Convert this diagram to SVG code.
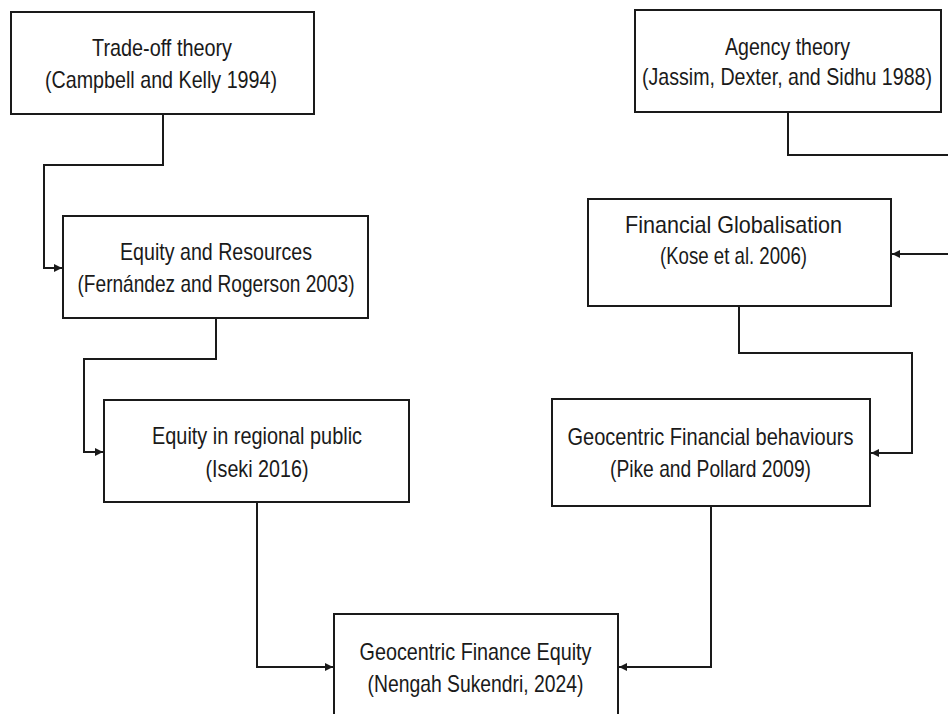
<svg xmlns="http://www.w3.org/2000/svg" width="948" height="714" viewBox="0 0 948 714">
<style>
.box{fill:#fff;stroke:#1a1a1a;stroke-width:2}
.lbl{font-family:"Liberation Sans",Arial,sans-serif;font-size:24px;fill:#1a1a1a;text-anchor:middle}
.con{fill:none;stroke:#1a1a1a;stroke-width:2;marker-end:url(#arr)}
</style>
<defs>
<marker id="arr" markerUnits="userSpaceOnUse" markerWidth="9" markerHeight="9" refX="8" refY="4.5" orient="auto">
<path d="M0,0.5 L8,4.5 L0,8.5 z" fill="#1a1a1a"/>
</marker>
</defs>
<rect width="948" height="714" fill="#fff"/>
<g id="connectors">
<path class="con" d="M163,114 V165 H44 V268 H62"/>
<path class="con" d="M216,318 V359 H84 V452 H103"/>
<path class="con" d="M257,502 V667 H333"/>
<path class="con" d="M711,506 V667 H619"/>
<path class="con" d="M739,306 V353 H912 V453 H871"/>
<path class="con" d="M788,112 V155 H960 V254 H892"/>
</g>
<g id="n_tradeoff">
<rect class="box" x="11" y="12" width="303" height="102"/>
<text class="lbl" x="162" y="56" textLength="140" lengthAdjust="spacingAndGlyphs">Trade-off theory</text>
<text class="lbl" x="161" y="88" textLength="232" lengthAdjust="spacingAndGlyphs">(Campbell and Kelly 1994)</text>
</g>
<g id="n_equity_resources">
<rect class="box" x="63" y="216" width="305" height="102"/>
<text class="lbl" x="216" y="260" textLength="192" lengthAdjust="spacingAndGlyphs">Equity and Resources</text>
<text class="lbl" x="216" y="292" textLength="277" lengthAdjust="spacingAndGlyphs">(Fernández and Rogerson 2003)</text>
</g>
<g id="n_equity_regional">
<rect class="box" x="104" y="400" width="305" height="102"/>
<text class="lbl" x="257" y="444" textLength="210" lengthAdjust="spacingAndGlyphs">Equity in regional public</text>
<text class="lbl" x="257" y="477" textLength="103" lengthAdjust="spacingAndGlyphs">(Iseki 2016)</text>
</g>
<g id="n_gfe">
<rect class="box" x="334" y="614" width="284" height="110"/>
<text class="lbl" x="475.5" y="660" textLength="232" lengthAdjust="spacingAndGlyphs">Geocentric Finance Equity</text>
<text class="lbl" x="475.5" y="692" textLength="216" lengthAdjust="spacingAndGlyphs">(Nengah Sukendri, 2024)</text>
</g>
<g id="n_agency">
<rect class="box" x="635" y="10" width="306" height="102"/>
<text class="lbl" x="787.5" y="55" textLength="125" lengthAdjust="spacingAndGlyphs">Agency theory</text>
<text class="lbl" x="787" y="85" textLength="290" lengthAdjust="spacingAndGlyphs">(Jassim, Dexter, and Sidhu 1988)</text>
</g>
<g id="n_globalisation">
<rect class="box" x="588" y="199" width="303" height="107"/>
<text class="lbl" x="733.5" y="233" textLength="217" lengthAdjust="spacingAndGlyphs">Financial Globalisation</text>
<text class="lbl" x="733.5" y="264" textLength="147" lengthAdjust="spacingAndGlyphs">(Kose et al. 2006)</text>
</g>
<g id="n_behaviours">
<rect class="box" x="552" y="399" width="318" height="107"/>
<text class="lbl" x="710.5" y="445" textLength="286" lengthAdjust="spacingAndGlyphs">Geocentric Financial behaviours</text>
<text class="lbl" x="710.5" y="477" textLength="201" lengthAdjust="spacingAndGlyphs">(Pike and Pollard 2009)</text>
</g>
</svg>
